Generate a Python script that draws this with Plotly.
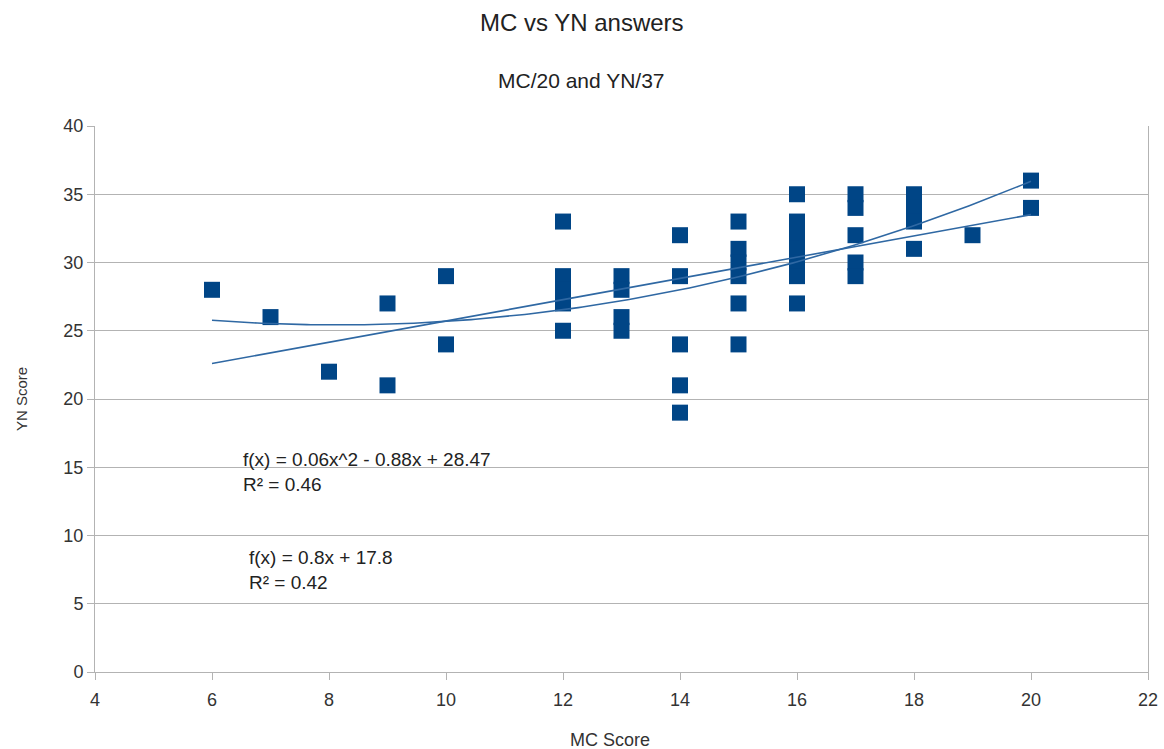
import numpy as np
import plotly.graph_objects as go

# Data
mc_score = [6, 7, 8, 9, 9, 10, 10,
            12, 12, 12, 12, 12,
            13, 13, 13, 13,
            14, 14, 14, 14, 14,
            15, 15, 15, 15, 15, 15,
            16, 16, 16, 16, 16, 16, 16,
            17, 17, 17, 17, 17,
            18, 18, 18, 18,
            19, 20, 20]
yn_score = [28, 26, 22, 27, 21, 29, 24,
            33, 29, 28, 27, 25,
            29, 28, 26, 25,
            32, 29, 24, 21, 19,
            33, 31, 30, 29, 27, 24,
            35, 33, 32, 31, 30, 29, 27,
            35, 34, 32, 30, 29,
            35, 34, 33, 31,
            32, 36, 34]

title_text = "MC vs YN answers"
subtitle_text = "MC/20 and YN/37"
x_title = "MC Score"
y_title = "YN Score"
poly_label = "f(x) = 0.06x^2 - 0.88x + 28.47<br>R² = 0.46"
lin_label = "f(x) = 0.8x + 17.8<br>R² = 0.42"

x = np.array(mc_score, dtype=float)
y = np.array(yn_score, dtype=float)
xs = np.linspace(x.min(), x.max(), 200)
lin = np.polyfit(x, y, 1)
quad = np.polyfit(x, y, 2)

MARK = "#004586"
LINE = "#2f68a3"
FONT = "Liberation Sans, Arial, sans-serif"
TXT = "#222222"

fig = go.Figure()
fig.add_trace(go.Scatter(x=x, y=y, mode="markers",
                         marker=dict(symbol="square", size=16, color=MARK, line=dict(width=0)),
                         showlegend=False))
fig.add_trace(go.Scatter(x=xs, y=np.polyval(lin, xs), mode="lines",
                         line=dict(color=LINE, width=1.6), showlegend=False))
fig.add_trace(go.Scatter(x=xs, y=np.polyval(quad, xs), mode="lines",
                         line=dict(color=LINE, width=1.6), showlegend=False))

fig.update_layout(
    width=1164, height=749,
    margin=dict(l=95, r=16, t=126, b=77),
    paper_bgcolor="white", plot_bgcolor="white",
    font=dict(family=FONT, color="#333333"),
    showlegend=False,
)
PW = 1164 - 95 - 16
# titles (centred on the whole image)
fig.add_annotation(text=title_text, xref="paper", yref="paper", x=(582 - 95) / PW, y=1,
                   xanchor="center", yanchor="middle", yshift=104, showarrow=False,
                   font=dict(size=24, color=TXT, family=FONT))
fig.add_annotation(text=subtitle_text, xref="paper", yref="paper", x=(581 - 95) / PW, y=1,
                   xanchor="center", yanchor="middle", yshift=46, showarrow=False,
                   font=dict(size=21, color=TXT, family=FONT))
# axis titles
fig.add_annotation(text=x_title, xref="paper", yref="paper", x=(610 - 95) / PW, y=0,
                   xanchor="center", yanchor="middle", yshift=-68, showarrow=False,
                   font=dict(size=18, color="#333333", family=FONT))
fig.add_annotation(text=y_title, xref="paper", yref="paper", x=0, y=0.5,
                   xanchor="center", xshift=-74, textangle=-90, showarrow=False,
                   font=dict(size=15, color="#333333", family=FONT))
# trendline equations
fig.add_annotation(text=poly_label, x=6.5, y=14.65, xref="x", yref="y", xanchor="left",
                   yanchor="middle", align="left", showarrow=False,
                   font=dict(size=19, color=TXT, family=FONT))
fig.add_annotation(text=lin_label, x=6.6, y=7.44, xref="x", yref="y", xanchor="left",
                   yanchor="middle", align="left", showarrow=False,
                   font=dict(size=19, color=TXT, family=FONT))

fig.update_xaxes(range=[4, 22], dtick=2, tick0=4, showgrid=False, zeroline=False,
                 automargin=False,
                 showline=True, linecolor="#b3b3b3", linewidth=1,
                 ticks="outside", ticklen=7, tickcolor="#b3b3b3",
                 ticklabelstandoff=4,
                 tickfont=dict(size=18, color="#333333"))
fig.update_yaxes(range=[0, 40], dtick=5, showgrid=True, gridcolor="#b3b3b3", gridwidth=1,
                 automargin=False, mirror=True,
                 zeroline=False, showline=True, linecolor="#b3b3b3", linewidth=1,
                 ticks="outside", ticklen=7, tickcolor="#b3b3b3",
                 tickfont=dict(size=18, color="#333333"))

fig.write_html("out.html")
